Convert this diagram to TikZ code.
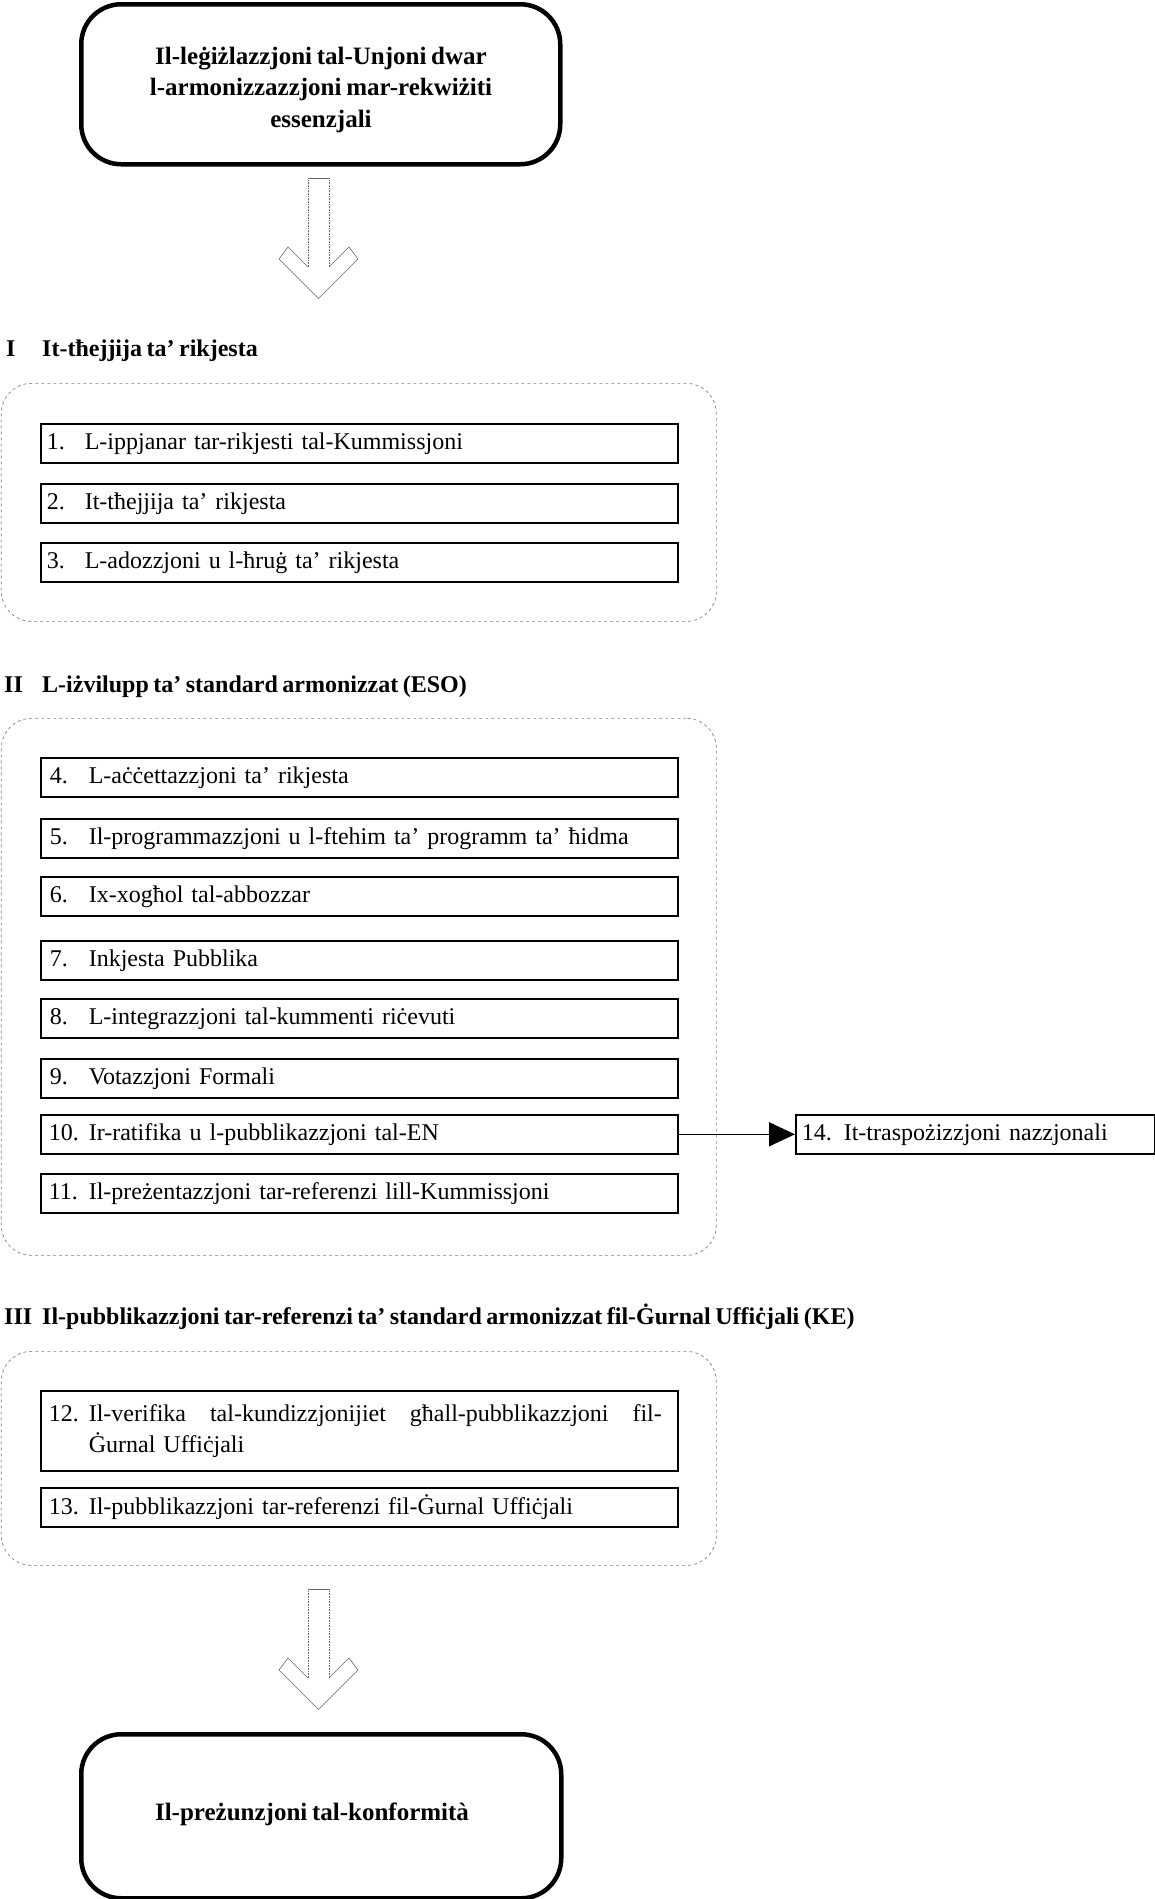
\documentclass[tikz,border=0pt]{standalone}
\usepackage{fontspec}
\setmainfont{Liberation Serif}[WordSpace={0.75,0,0}]
\usetikzlibrary{arrows.meta}
\DeclareRobustCommand{\boxfont}{\fontsize{24}{31}\selectfont\spaceskip=4pt\relax\xspaceskip=4pt\relax}
\tikzset{
  bigbox/.style={draw, line width=4.5pt, rounded corners=40pt, anchor=north west, inner sep=0pt},
  stepbox/.style={draw, line width=1.6pt, anchor=north west, minimum height=39pt, text width=625pt, inner xsep=6pt, inner ysep=0pt, align=left, font=\boxfont},
  sidebox/.style={draw, line width=1.6pt, anchor=north west, minimum height=39pt, text width=347pt, inner xsep=6pt, inner ysep=0pt, align=left, font=\boxfont},
  groupbox/.style={draw, dashed, gray, line width=0.7pt, rounded corners=30pt, anchor=north west, inner sep=0pt},
  headnum/.style={anchor=base west, inner sep=0pt, font=\bfseries\fontsize{24}{29}\selectfont},
  headtext/.style={anchor=base west, inner sep=0pt, font=\bfseries\fontsize{24}{29}\selectfont},
  bigtext/.style={align=center, inner sep=0pt, font=\bfseries\fontsize{25}{31.5}\selectfont},
  hollowarrow/.pic={
    \draw[gray!80!black, line width=0.6pt] (-10.5,89) -- (-30.5,69) -- (-39.5,81) -- (0,120.5) -- (39.5,81) -- (30.5,69) -- (10.5,89);
    \draw[gray!80!black, line width=0.6pt, densely dotted] (-10.5,89) -- (-10.5,0);
    \draw[gray!80!black, line width=0.6pt, densely dotted] (10.5,89) -- (10.5,0);
    \draw[gray!80!black, line width=0.6pt] (-10.5,0) -- (10.5,0);
  }
}
\newcommand{\numA}[1]{\makebox[38pt][l]{#1}}
\newcommand{\numB}[1]{\hspace*{3pt}\makebox[39pt][l]{#1}}
\newcommand{\numC}[1]{\hspace*{2pt}\makebox[40pt][l]{#1}}
\begin{document}
\begin{tikzpicture}[x=1pt, y=-1pt]
\useasboundingbox (0,0) rectangle (1155,1899);

% top box
\node[bigbox, minimum width=479pt, minimum height=160pt] (top) at (79,2) {};
\node[bigtext] (toptext) at (321,89.5) {Il-leġiżlazzjoni tal-Unjoni dwar\\l-armonizzazzjoni mar-rekwiżiti\\essenzjali};

\pic at (318.5,178) {hollowarrow};

% Section I
\node[headnum] (h1n) at (6,356) {I};
\node[headtext] (h1t) at (42,356) {It-tħejjija ta’ rikjesta};
\node[groupbox, minimum width=715pt, minimum height=238pt] (g1) at (1,383) {};
\node[stepbox] (b1) at (40,423) {\numA{1.}L-ippjanar tar-rikjesti tal-Kummissjoni};
\node[stepbox] (b2) at (40,483) {\numA{2.}It-tħejjija ta’ rikjesta};
\node[stepbox] (b3) at (40,542) {\numA{3.}L-adozzjoni u l-ħruġ ta’ rikjesta};

% Section II
\node[headnum] (h2n) at (4,692) {II};
\node[headtext] (h2t) at (42,692) {L-iżvilupp ta’ standard armonizzat (ESO)};
\node[groupbox, minimum width=715pt, minimum height=537pt] (g2) at (1,718) {};
\node[stepbox] (b4) at (40,757) {\numB{4.}L-aċċettazzjoni ta’ rikjesta};
\node[stepbox] (b5) at (40,818) {\numB{5.}Il-programmazzjoni u l-ftehim ta’ programm ta’ ħidma};
\node[stepbox] (b6) at (40,876) {\numB{6.}Ix-xogħol tal-abbozzar};
\node[stepbox] (b7) at (40,940) {\numB{7.}Inkjesta Pubblika};
\node[stepbox] (b8) at (40,998) {\numB{8.}L-integrazzjoni tal-kummenti riċevuti};
\node[stepbox] (b9) at (40,1058) {\numB{9.}Votazzjoni Formali};
\node[stepbox] (b10) at (40,1114) {\numC{10.}Ir-ratifika u l-pubblikazzjoni tal-EN};
\node[stepbox] (b11) at (40,1173) {\numC{11.}Il-preżentazzjoni tar-referenzi lill-Kummissjoni};
\node[sidebox] (b14) at (795,1114) {14. It-traspożizzjoni nazzjonali};
\draw[line width=1.5pt, -{Triangle[length=26pt, width=24pt]}] (b10.east) -- (b14.west);

% Section III
\node[headnum] (h3n) at (4,1324) {III};
\node[headtext] (h3t) at (42,1324) {Il-pubblikazzjoni tar-referenzi ta’ standard armonizzat fil-Ġurnal Uffiċjali (KE)};
\node[groupbox, minimum width=715pt, minimum height=214pt] (g3) at (1,1351) {};
\node[stepbox, minimum height=80pt] (b12) at (40,1390) {\numC{12.}\makebox[573pt][s]{Il-verifika\hfill tal-kundizzjonijiet\hfill għall-pubblikazzjoni\hfill fil-}\\\hspace*{42pt}Ġurnal Uffiċjali};
\node[stepbox] (b13) at (40,1487) {\numC{13.}Il-pubblikazzjoni tar-referenzi fil-Ġurnal Uffiċjali};

\pic at (318.5,1589) {hollowarrow};

% bottom box
\node[bigbox, minimum width=480pt, minimum height=164pt] (bot) at (79,1732) {};
\node[bigtext] (bottext) at (312,1814) {Il-preżunzjoni tal-konformità};
\end{tikzpicture}
\end{document}
